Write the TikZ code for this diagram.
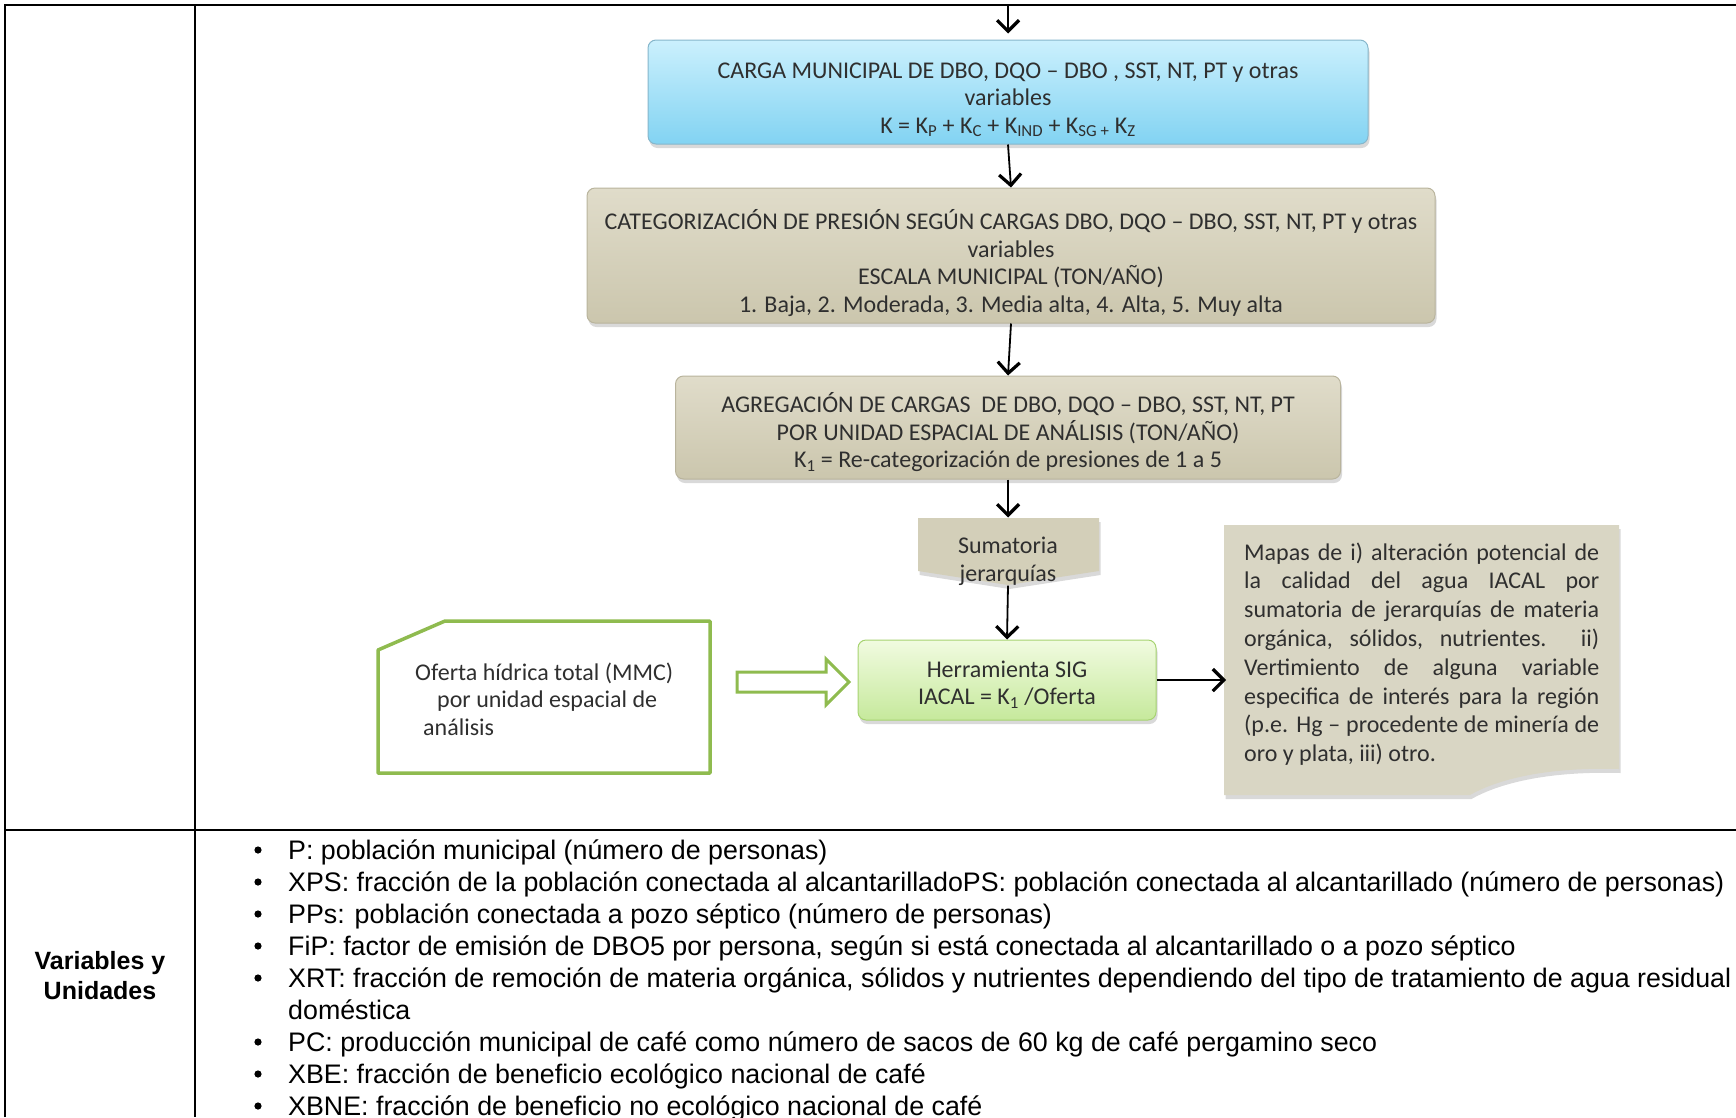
\documentclass[tikz,border=0pt]{standalone}
\usepackage{fontspec}
\setmainfont{Carlito}
\newfontfamily\arialfont{Liberation Sans}
\usetikzlibrary{arrows.meta,positioning,shadows,shapes.arrows}
\definecolor{ink}{HTML}{2F2F2F}
\definecolor{azultop}{HTML}{CBF0FD}
\definecolor{azulbot}{HTML}{82D3F2}
\definecolor{azulborde}{HTML}{86B6CB}
\definecolor{cafetop}{HTML}{E0DCCA}
\definecolor{cafebot}{HTML}{CBC6AD}
\definecolor{cafeborde}{HTML}{B9B49D}
\definecolor{cafe}{HTML}{D3CFB9}
\definecolor{papel}{HTML}{D9D6C4}
\definecolor{verdetop}{HTML}{F1FBE0}
\definecolor{verdebot}{HTML}{C6E99C}
\definecolor{verdeborde}{HTML}{A6D370}
\definecolor{verde}{HTML}{8FBB4F}
\newcommand{\renglon}[1]{\makebox[355pt][s]{#1}}
\newcommand{\bajar}[1]{\rule{0pt}{#1pt}}

\begin{document}
\begin{tikzpicture}[x=1pt,y=-1pt,
    linea/.style={line width=2.5pt},
    texto/.style={text=ink, inner sep=0pt, font=\fontsize{24}{27.5}\selectfont},
    sombra/.style={drop shadow={shadow xshift=1.5pt, shadow yshift=-4pt, opacity=0.3}},
    caja/.style={texto, draw, line width=1pt, rounded corners=8pt, align=center, sombra},
    cajaazul/.style={caja, draw=azulborde, top color=azultop, bottom color=azulbot},
    cajacafe/.style={caja, draw=cafeborde, top color=cafetop, bottom color=cafebot},
    cajaverde/.style={caja, draw=verdeborde, top color=verdetop, bottom color=verdebot},
    flujo/.style={line width=1.8pt, -{Straight Barb[length=11pt,width=22pt,line width=3.2pt]}},
    lista/.style={anchor=base west, inner sep=0pt, font=\arialfont\fontsize{26.8}{32}\selectfont}]
  \useasboundingbox (0,0) rectangle (1736,1117);
  % tabla
  \draw[linea] (5,1117) -- (5,5) -- (1736,5);
  \draw[linea] (195,5) -- (195,1117);
  \draw[linea] (5,830) -- (1736,830);
  % cajas del flujo
  \node[cajaazul, minimum width=720, minimum height=104] (carga) at (1008,92)
    {\bajar{31}CARGA MUNICIPAL DE DBO, DQO -- DBO , SST, NT, PT y otras\\ variables\\
     K = K\textsubscript{P} + K\textsubscript{C} + K\textsubscript{IND} + K\textsubscript{SG +} K\textsubscript{Z}};
  \node[cajacafe, minimum width=848, minimum height=135] (categ) at (1011,255.5)
    {\bajar{35}CATEGORIZACIÓN DE PRESIÓN SEGÚN CARGAS DBO, DQO -- DBO, SST, NT, PT y otras\\ variables\\
     ESCALA MUNICIPAL (TON/AÑO)\\ 1. Baja, 2. Moderada, 3. Media alta, 4. Alta, 5. Muy alta};
  \node[cajacafe, minimum width=665, minimum height=103] (agreg) at (1008,427.5)
    {\bajar{30}AGREGACIÓN DE CARGAS~ DE DBO, DQO -- DBO, SST, NT, PT\\ POR UNIDAD ESPACIAL DE ANÁLISIS (TON/AÑO)\\
     K\textsubscript{1} = Re-categorización de presiones de 1 a 5};
  % sumatoria
  \fill[cafe, sombra] (918,518) -- (1099,518) -- (1099,571) -- (1008,585) -- (918,571) -- cycle;
  \node[texto, align=center, minimum width=181, minimum height=67] (suma) at (1008,551.5) {\bajar{36}Sumatoria\\ jerarquías};
  \node[cajaverde, minimum width=298, minimum height=80] (herram) at (1007,680)
    {\bajar{26}Herramienta SIG\\ IACAL = K\textsubscript{1} /Oferta};
  % oferta hidrica
  \draw[verde, line width=3.5pt, line join=round] (378,650) -- (445,621) -- (710,621) -- (710,773) -- (378,773) -- cycle;
  \node[texto, align=left, anchor=west] (oferta) at (415,699)
    {Oferta hídrica total (MMC)\\ \hspace*{22pt}por unidad espacial de\\ \hspace*{8pt}análisis};
  \node[single arrow, draw=verde, fill=white, line width=3pt, inner xsep=0pt, inner ysep=8.5pt,
    text height=0pt, text depth=0pt, single arrow head extend=13pt, minimum height=112] (flecha) at (788,682) {};
  % mapas
  \fill[papel, sombra] (1224,525) -- (1619,525) -- (1619,769) .. controls (1550,767) and (1500,778) .. (1470,795) -- (1224,795) -- cycle;
  \node[texto, align=left, anchor=west, font=\fontsize{24}{28.8}\selectfont] (mapas) at (1244,654)
    {\renglon{Mapas de i) alteración potencial de}\\ \renglon{la calidad del agua IACAL por}\\
     \renglon{sumatoria de jerarquías de materia}\\ \renglon{orgánica, sólidos, nutrientes. ii)}\\
     \renglon{Vertimiento de alguna variable}\\ \renglon{especifica de interés para la región}\\
     \renglon{(p.e. Hg -- procedente de minería de}\\ oro y plata, iii) otro.};
  % conectores
  \coordinate (entrada) at (1008,6);
  \draw[flujo] (entrada) -- ([yshift=6pt]carga.north);
  \draw[flujo] (carga.south) -- (categ.north);
  \draw[flujo] (categ.south) -- (agreg.north);
  \draw[flujo] (agreg.south) -- (suma.north);
  \draw[flujo] (suma.south) -- (herram.north);
  \draw[flujo, shorten >=18pt] (herram.east) -- (herram.east -| mapas.west);
  % variables
  \node[align=center, inner sep=0pt, font=\arialfont\bfseries\fontsize{25}{30}\selectfont] (etiqueta) at (100,976) {Variables y\\ Unidades};
  \foreach \k/\t in {0/{P: población municipal (número de personas)},
      1/{XPS: fracción de la población conectada al alcantarilladoPS: población conectada al alcantarillado (número de personas)},
      2/{PPs: población conectada a pozo séptico (número de personas)},
      3/{FiP: factor de emisión de DBO5 por persona, según si está conectada al alcantarillado o a pozo séptico},
      4/{XRT: fracción de remoción de materia orgánica, sólidos y nutrientes dependiendo del tipo de tratamiento de agua residual},
      6/{PC: producción municipal de café como número de sacos de 60 kg de café pergamino seco},
      7/{XBE: fracción de beneficio ecológico nacional de café},
      8/{XBNE: fracción de beneficio no ecológico nacional de café}} {
    \fill (258,{850+32*\k}) circle (3.6);
    \node[lista] (item\k) at (288,{859+32*\k}) {\t};
  }
  \node[lista] (item5) at (288,1019) {doméstica};
\end{tikzpicture}
\end{document}
